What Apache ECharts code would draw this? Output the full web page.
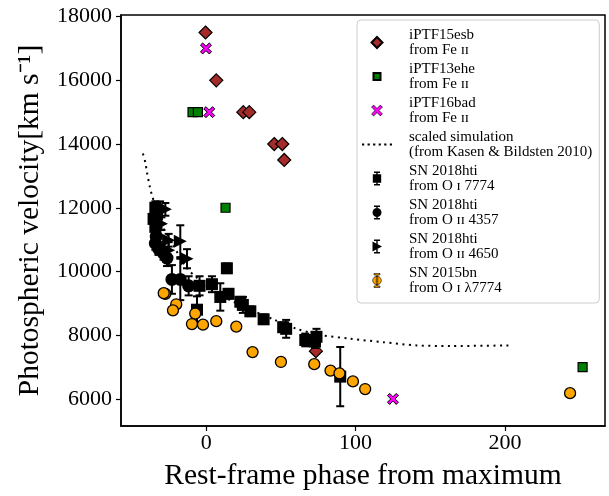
<!DOCTYPE html>
<html><head><meta charset="utf-8">
<script src="https://cdn.jsdelivr.net/npm/echarts@6/dist/echarts.min.js"></script>
<style>html,body{margin:0;padding:0;background:#fff}#c{width:609px;height:496px}</style>
</head><body><div id="c"></div>
<script>
// ---- data ----
const esbX = [-0.5, 6.7, 24.8, 28.8, 45.5, 50.9, 52.2, 73.4];
const esbY = [17500, 16000, 15000, 15000, 14000, 14000, 13500, 7500];

const eheX = [-9.2, -5.6, 12.9, 252];
const eheY = [15000, 15000, 12000, 7000];

const badX = [-0.2, 2, 125];
const badY = [17000, 15000, 6000];

const simX = [-42.4, -40.8, -39.7, -37.9, -36.3, -34.1, -31.9, -28.6, -24, -18.5, -12.9, -6.2, 5, 19.4, 44.8, 60.7, 77.4, 96.4, 118.5, 141, 163.3, 204.8];
const simY = [13700, 13420, 13110, 12680, 12380, 12070, 11760, 11340, 11000, 10520, 10100, 9800, 9400, 9020, 8500, 8200, 8000, 7890, 7780, 7680, 7660, 7680];

const oiX = [-34.1, -35.3, -34.1, -33, -4.5, 3.8, 9.4, 13.8, 14.9, 22.8, 24.5, 29.5, 38.4, 53.5, 51.5, 66.3, 72.8, 73.8, -6.2, 89.7];
const oiY = [12000, 11650, 11400, 11800, 9550, 9600, 9200, 10100, 9300, 9050, 8950, 8750, 8500, 8200, 8250, 7850, 7800, 7950, 8800, 6700];
const oiErr = [200, 150, 150, 150, 300, 250, 430, 150, 150, 150, 250, 150, 150, 280, 150, 200, 200, 250, 420, 930];

const o2aX = [-34.1, -32, -28.6, -26.3, -33.5, -23, -17.4, -11.8];
const o2aY = [10880, 10720, 10570, 10420, 11100, 9750, 9750, 9550];
const o2aErr = [200, 200, 200, 250, 200, 450, 650, 300];

const o2bX = [-27.4, -30, -25.2, -25.2, -17.4, -12.9, -31];
const o2bY = [11950, 11500, 10980, 10670, 10950, 10400, 12050];
const o2bErr = [200, 200, 200, 250, 500, 300, 150];

const bnX = [-27.4, -28.5, -20.1, -22.3, -7.4, -9.6, -2.2, 6.7, 20.1, 31, 50, 72.3, 83.2, 89.2, 98.2, 106.4, 243.6];
const bnY = [9300, 9320, 8970, 8780, 8680, 8350, 8330, 8440, 8270, 7470, 7160, 7090, 6890, 6800, 6550, 6310, 6180];

const xTicks = [0, 100, 200];
const yTicks = [6000, 8000, 10000, 12000, 14000, 16000, 18000];

const names = {
  esb: 'iPTF15esb\nfrom Fe ɪɪ',
  ehe: 'iPTF13ehe\nfrom Fe ɪɪ',
  bad: 'iPTF16bad\nfrom Fe ɪɪ',
  sim: 'scaled simulation\n(from Kasen & Bildsten 2010)',
  oi: 'SN 2018hti\nfrom O ɪ 7774',
  o2a: 'SN 2018hti\nfrom O ɪɪ 4357',
  o2b: 'SN 2018hti\nfrom O ɪɪ 4650',
  bn: 'SN 2015bn\nfrom O ɪ λ7774'
};

const zip = (a, b) => a.map((v, i) => [v, b[i]]);
const zip3 = (a, b, c) => a.map((v, i) => [v, b[i], c[i]]);

const FONT = 'Liberation Serif';
// plot marker shapes
const X_PATH = 'path://M2,0 L5,3 L8,0 L10,2 L7,5 L10,8 L8,10 L5,7 L2,10 L0,8 L3,5 L0,2 Z';
const TRI_PATH = 'path://M0,0 L10,5 L0,10 Z';
const DIAM_PATH = 'path://M5,0 L10,5 L5,10 L0,5 Z';
const SQ_PATH = 'path://M0,0 L10,0 L10,10 L0,10 Z';
// legend icons drawn in a 16x16 box (empty sub-paths at the corners keep the box)
const BOX = ' M0,0 Z M16,16 Z';
const L_DIAM = 'path://M8,2.5 L13.5,8 L8,13.5 L2.5,8 Z' + BOX;
const L_SQ = 'path://M4.5,4.5 L11.5,4.5 L11.5,11.5 L4.5,11.5 Z' + BOX;
const L_X = 'path://M4.6,2.6 L8,6 L11.4,2.6 L13.4,4.6 L10,8 L13.4,11.4 L11.4,13.4 L8,10 L4.6,13.4 L2.6,11.4 L6,8 L2.6,4.6 Z' + BOX;
const L_DOTS = 'path://M0,0 h2 v2 h-2 Z M5,0 h2 v2 h-2 Z M10,0 h2 v2 h-2 Z M15,0 h2 v2 h-2 Z M20,0 h2 v2 h-2 Z M25,0 h2 v2 h-2 Z';
const BAR = 'M5,1 L11,1 L11,2.4 L8.7,2.4 L8.7,13.6 L11,13.6 L11,15 L5,15 L5,13.6 L7.3,13.6 L7.3,2.4 L5,2.4 Z';
const L_SQERR = 'path://' + BAR + ' M3.8,3.8 L12.2,3.8 L12.2,12.2 L3.8,12.2 Z' + BOX;
const L_CIERR = 'path://' + BAR + ' M12.5,8 A4.5,4.5 0 1,1 3.5,8 A4.5,4.5 0 1,1 12.5,8 Z' + BOX;
const L_TRERR = 'path://' + BAR + ' M3.5,3 L13,8 L3.5,13 Z' + BOX;
const L_BNERR = 'path://' + BAR + ' M12.3,8 A4.3,4.3 0 1,1 3.7,8 A4.3,4.3 0 1,1 12.3,8 Z' + BOX;

function errRender(params, api) {
  const x = api.value(0), y = api.value(1), e = api.value(2);
  const t = api.coord([x, y + e]), b = api.coord([x, y - e]);
  const cw = 4;
  const st = { stroke: '#000', lineWidth: 2 };
  return { type: 'group', children: [
    { type: 'line', shape: { x1: t[0], y1: t[1], x2: b[0], y2: b[1] }, style: st },
    { type: 'line', shape: { x1: t[0] - cw, y1: t[1], x2: t[0] + cw, y2: t[1] }, style: st },
    { type: 'line', shape: { x1: b[0] - cw, y1: b[1], x2: b[0] + cw, y2: b[1] }, style: st }
  ]};
}
function errSeries(xs, ys, es) {
  return { type: 'custom', renderItem: errRender, data: zip3(xs, ys, es), encode: { x: 0, y: 1 }, z: 3, silent: true, clip: true };
}

const chart = echarts.init(document.getElementById('c'), null, { renderer: 'canvas' });
chart.setOption({
  animation: false,
  backgroundColor: '#fff',
  grid: { left: 121, right: 4, top: 15, bottom: 66, show: true, borderColor: '#000', borderWidth: 1.5, backgroundColor: 'transparent' },
  xAxis: {
    type: 'value', min: -57.1, max: 267,
    name: 'Rest-frame phase from maximum', nameLocation: 'middle', nameGap: 35,
    nameTextStyle: { fontFamily: FONT, fontSize: 29.5, color: '#000' },
    axisLine: { show: true, onZero: false, lineStyle: { color: '#000', width: 1.5 } },
    axisTick: { show: true, length: 5, lineStyle: { color: '#000', width: 1.2 }, customValues: xTicks },
    axisLabel: { fontFamily: FONT, fontSize: 22, color: '#000', margin: 6, customValues: xTicks, formatter: v => String(v) },
    splitLine: { show: false }
  },
  yAxis: {
    type: 'value', min: 5150, max: 18050,
    name: 'Photospheric velocity[km s⁻¹]', nameLocation: 'middle', nameGap: 76,
    nameTextStyle: { fontFamily: FONT, fontSize: 29.5, color: '#000' },
    axisLine: { show: true, onZero: false, lineStyle: { color: '#000', width: 1.5 } },
    axisTick: { show: true, length: 5, lineStyle: { color: '#000', width: 1.2 }, customValues: yTicks },
    axisLabel: { fontFamily: FONT, fontSize: 22, color: '#000', margin: 9, customValues: yTicks, formatter: v => String(v) },
    splitLine: { show: false }
  },
  legend: {
    orient: 'vertical', left: 357, top: 20,
    padding: [7, 7, 7, 5],
    itemWidth: 30, itemHeight: 16, itemGap: 3,
    backgroundColor: 'rgba(255,255,255,0.8)',
    borderColor: '#cccccc', borderWidth: 1, borderRadius: 4,
    textStyle: { fontFamily: FONT, fontSize: 15, lineHeight: 15.5, color: '#000', padding: [0, 0, 0, 12] },
    data: [
      { name: names.esb, icon: L_DIAM },
      { name: names.ehe, icon: L_SQ },
      { name: names.bad, icon: L_X, itemStyle: { color: '#FF00FF', borderColor: '#000', borderWidth: 0.7 } },
      { name: names.sim, icon: L_DOTS },
      { name: names.oi, icon: L_SQERR },
      { name: names.o2a, icon: L_CIERR },
      { name: names.o2b, icon: L_TRERR },
      { name: names.bn, icon: L_BNERR, itemStyle: { color: '#FFA500', borderColor: '#000', borderWidth: 0.6 } }
    ]
  },
  series: [
    { name: names.esb, type: 'scatter', data: zip(esbX, esbY), symbol: DIAM_PATH, symbolSize: 13,
      itemStyle: { color: '#A52A2A', borderColor: '#000', borderWidth: 1.2, opacity: 1 }, z: 2 },
    { name: names.ehe, type: 'scatter', data: zip(eheX, eheY), symbol: SQ_PATH, symbolSize: 9,
      itemStyle: { color: '#008000', borderColor: '#000', borderWidth: 1.2, opacity: 1 }, z: 2 },
    { name: names.bad, type: 'scatter', data: zip(badX, badY), symbol: X_PATH, symbolSize: 11,
      itemStyle: { color: '#FF00FF', borderColor: '#000', borderWidth: 1, opacity: 1 }, z: 2 },
    { name: names.sim, type: 'line', data: zip(simX, simY), symbol: 'none', smooth: 0.3,
      lineStyle: { color: '#000', width: 2, type: [2, 4.5] }, itemStyle: { color: '#000' }, z: 2 },
    errSeries(oiX, oiY, oiErr),
    errSeries(o2aX, o2aY, o2aErr),
    errSeries(o2bX, o2bY, o2bErr),
    { name: names.oi, type: 'scatter', data: zip(oiX, oiY), symbol: SQ_PATH, symbolSize: 12,
      itemStyle: { color: '#000', opacity: 1 }, z: 4 },
    { name: names.o2a, type: 'scatter', data: zip(o2aX, o2aY), symbol: 'circle', symbolSize: 13,
      itemStyle: { color: '#000', opacity: 1 }, z: 4 },
    { name: names.o2b, type: 'scatter', data: zip(o2bX, o2bY), symbol: TRI_PATH, symbolSize: 13,
      itemStyle: { color: '#000', opacity: 1 }, z: 4 },
    { name: names.bn, type: 'scatter', data: zip(bnX, bnY), symbol: 'circle', symbolSize: 11,
      itemStyle: { color: '#FFA500', borderColor: '#000', borderWidth: 1.3, opacity: 1 }, z: 5 }
  ]
});
</script>
</body></html>
